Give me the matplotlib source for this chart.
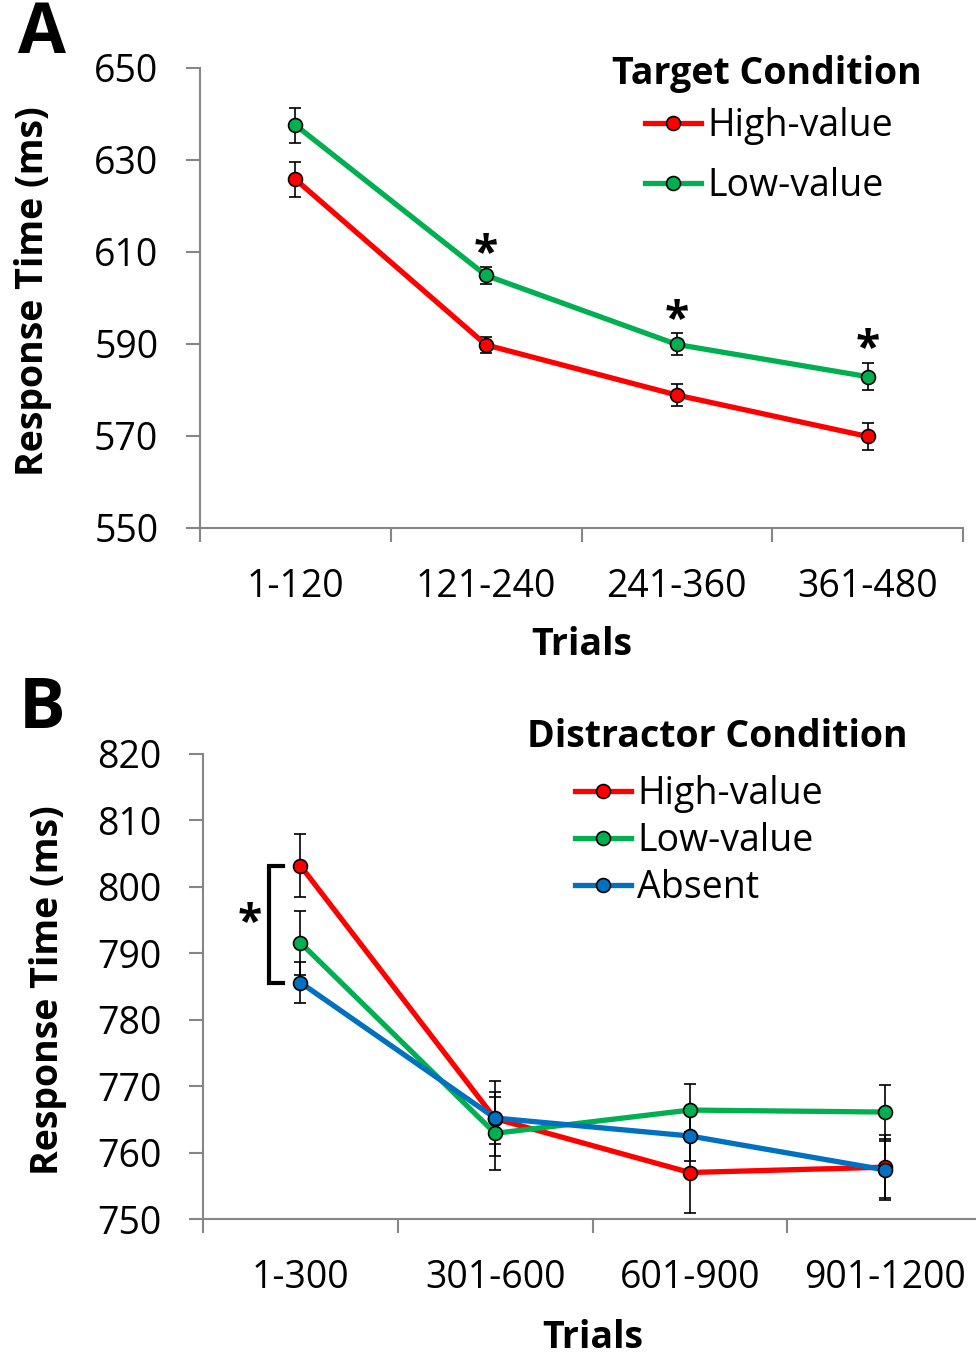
import matplotlib
matplotlib.use("Agg")
import matplotlib.pyplot as plt

# ---------------------------------------------------------
# data (response time in ms, error = SEM)
# ---------------------------------------------------------
trials_a = ["1-120", "121-240", "241-360", "361-480"]
high_a = [625.8, 589.8, 578.9, 569.9]
high_a_err = [3.8, 1.7, 2.4, 3.0]
low_a = [637.6, 604.9, 589.9, 582.9]
low_a_err = [3.8, 1.8, 2.4, 3.0]
sig_a = [1, 2, 3]  # bins with a starred difference

trials_b = ["1-300", "301-600", "601-900", "901-1200"]
high_b = [803.2, 765.1, 757.0, 757.8]
high_b_err = [4.8, 5.6, 6.1, 4.9]
low_b = [791.6, 762.9, 766.4, 766.1]
low_b_err = [4.8, 5.5, 3.9, 4.0]
absent_b = [785.6, 765.2, 762.5, 757.4]
absent_b_err = [3.1, 3.9, 3.8, 4.3]

RED = "#FF0000"
GREEN = "#00B050"
BLUE = "#0070C0"
GREY = "#868686"
FS = 27

plt.rcParams["font.family"] = ["Open Sans", "DejaVu Sans"]

W, H = 976, 1357
fig = plt.figure(figsize=(W / 100, H / 100), dpi=100)


def px_axes(left, top, right, bottom):
    # axes placed from pixel edges of the reference picture
    return fig.add_axes([left / W, 1 - bottom / H, (right - left) / W, (bottom - top) / H])


def style_axes(ax, labels, ylim, yticks):
    n = len(labels)
    ax.set_xlim(-0.5, n - 0.5)
    ax.set_ylim(*ylim)
    ax.set_yticks(yticks)
    ax.set_xticks(range(n))
    ax.set_xticklabels(labels)
    ax.set_xticks([i - 0.5 for i in range(n + 1)], minor=True)
    ax.tick_params(axis="x", which="major", length=0, pad=29, labelsize=FS)
    ax.tick_params(axis="x", which="minor", length=10, width=1.5, color=GREY)
    ax.tick_params(axis="y", length=10, width=1.5, color=GREY, pad=20, labelsize=FS)
    for s in ["top", "right"]:
        ax.spines[s].set_visible(False)
    for s in ["left", "bottom"]:
        ax.spines[s].set_color(GREY)
        ax.spines[s].set_linewidth(1.5)


def draw_series(ax, vals, errs, color, label, z):
    x = range(len(vals))
    ax.errorbar(x, vals, yerr=errs, fmt="none", ecolor="black", elinewidth=1.2,
                capsize=4.5, capthick=1.2, zorder=2)
    ax.plot(x, vals, "-o", color=color, lw=3.8, ms=10, mfc=color, mec="black",
            mew=1.2, label=label, zorder=z)


def add_legend(ax, title, title_xy, center_xy, spacing):
    # title as its own text so its gap to the entries matches the reference
    fig.text(title_xy[0] / W, 1 - title_xy[1] / H, title, ha="center", va="baseline",
             fontsize=FS, fontweight="bold")
    ax.legend(loc="center", bbox_to_anchor=(center_xy[0] / W, 1 - center_xy[1] / H),
              bbox_transform=fig.transFigure, frameon=False, fontsize=FS,
              handlelength=1.5, handletextpad=0.15, labelspacing=spacing,
              numpoints=1, borderpad=0, borderaxespad=0)


# ---------------------------------------------------------
# Panel A: target condition
# ---------------------------------------------------------
ax_a = px_axes(200, 68, 963, 528)
style_axes(ax_a, trials_a, (550, 650), range(550, 651, 20))
draw_series(ax_a, high_a, high_a_err, RED, "High-value", 3)
draw_series(ax_a, low_a, low_a_err, GREEN, "Low-value", 4)
for i in sig_a:
    ax_a.annotate("*", (i, low_a[i] + low_a_err[i]), xytext=(0, 1),
                  textcoords="offset points", ha="center", va="baseline",
                  fontsize=32, fontweight="bold")
add_legend(ax_a, "Target Condition", (767, 84), (769, 156), 0.57)

# ---------------------------------------------------------
# Panel B: distractor condition
# ---------------------------------------------------------
ax_b = px_axes(203, 754, 982, 1219)
style_axes(ax_b, trials_b, (750, 820), range(750, 821, 10))
draw_series(ax_b, high_b, high_b_err, RED, "High-value", 3)
draw_series(ax_b, low_b, low_b_err, GREEN, "Low-value", 4)
draw_series(ax_b, absent_b, absent_b_err, BLUE, "Absent", 5)
# bracket between high-value and absent in the first bin
bx0, bx1 = -0.16, -0.09
ax_b.plot([bx1, bx0, bx0, bx1], [high_b[0], high_b[0], absent_b[0], absent_b[0]],
          color="black", lw=3, solid_joinstyle="miter", clip_on=False)
ax_b.text(-0.26, (high_b[0] + absent_b[0]) / 2, "*", ha="center", va="center",
          fontsize=32, fontweight="bold")
add_legend(ax_b, "Distractor Condition", (717, 747), (699, 841), 0.24)

# ---------------------------------------------------------
# shared labels
# ---------------------------------------------------------
fig.text(42 / W, 1 - 35 / H, "A", ha="center", va="center", fontsize=50, fontweight="bold")
fig.text(42 / W, 1 - 710 / H, "B", ha="center", va="center", fontsize=50, fontweight="bold")
fig.text(33 / W, 1 - 291 / H, "Response Time (ms)", rotation=90, ha="center", va="center",
         fontsize=FS, fontweight="bold")
fig.text(48 / W, 1 - 990 / H, "Response Time (ms)", rotation=90, ha="center", va="center",
         fontsize=FS, fontweight="bold")
fig.text(582 / W, 1 - 655 / H, "Trials", ha="center", va="baseline", fontsize=FS, fontweight="bold")
fig.text(593 / W, 1 - 1348 / H, "Trials", ha="center", va="baseline", fontsize=FS, fontweight="bold")

fig.savefig("out.png", dpi=100)
